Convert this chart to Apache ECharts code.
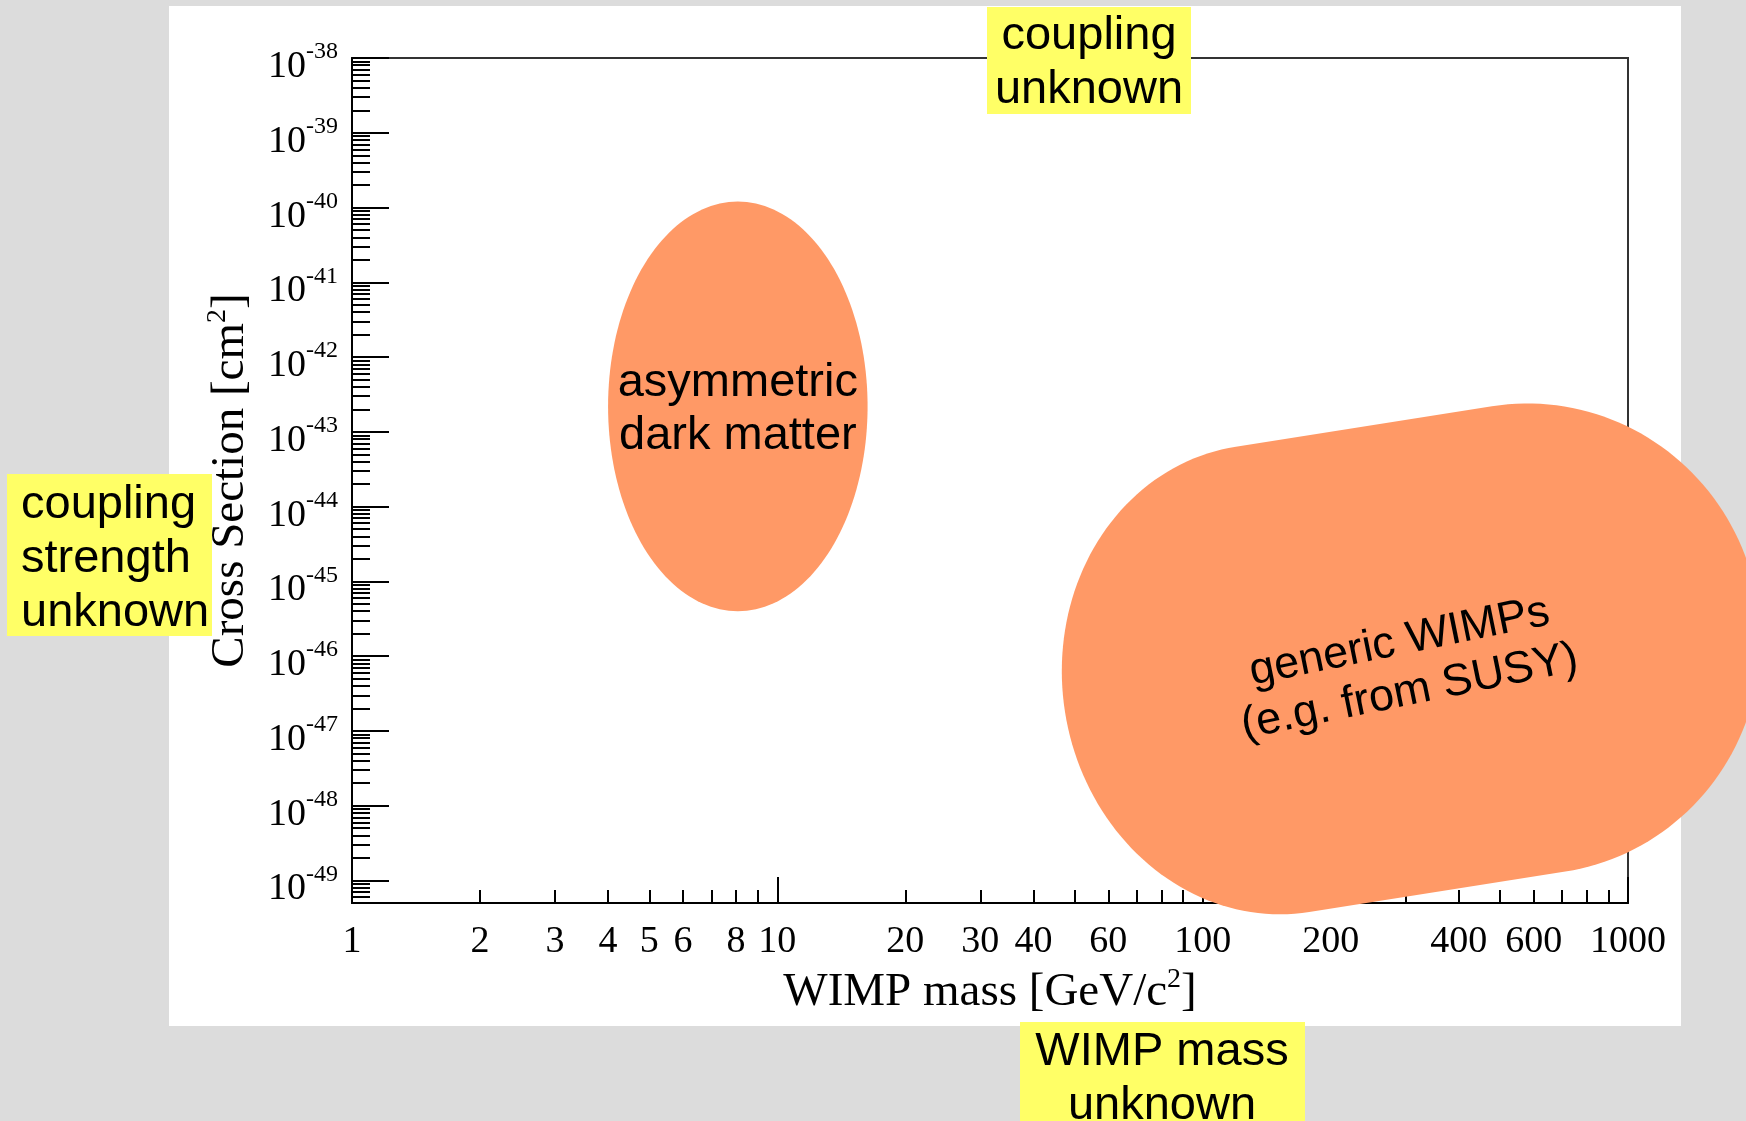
<!DOCTYPE html>
<html>
<head>
<meta charset="utf-8">
<script src="https://cdn.jsdelivr.net/npm/echarts@6/dist/echarts.min.js"></script>
<style>
html,body{margin:0;padding:0;background:#dcdcdc;}
#c{width:1746px;height:1121px;}
</style>
</head>
<body>
<div id="c"></div>
<script>
// ---------------- data ----------------
const massMin = 1;
const massMax = 1000;
const massLabels = [1, 2, 3, 4, 5, 6, 8, 10, 20, 30, 40, 60, 100, 200, 400, 600, 1000];
const massMajorTicks = [1, 10, 100, 1000];
const massDecades = [1, 10, 100];
const minorFactors = [2, 3, 4, 5, 6, 7, 8, 9];

const xsecMin = 5e-50;
const xsecMax = 1e-38;
const xsecExponents = [-49, -48, -47, -46, -45, -44, -43, -42, -41, -40, -39, -38];
const xsecMinorDecades = [-50, -49, -48, -47, -46, -45, -44, -43, -42, -41, -40, -39];

// region: asymmetric dark matter (mass range, cross-section range)
const asymMassRange = [4, 16.3];
const asymXsecRange = [4e-46, 1.2e-40];
const asymLabel = 'asymmetric\ndark matter';

// region: generic WIMPs (centres of the two rounded ends, thickness / end reach in decades)
const wimpEndMass = [146, 584];
const wimpEndXsec = [4.9e-47, 1.7e-46];
const wimpHalfThicknessDecades = 3.15;
const wimpEndReachDecades = [0.494, 0.545];
const wimpLabel = 'generic WIMPs\n(e.g. from SUSY)';

const xTitleRich = '{a|WIMP mass [GeV/c}{s|2}{a|]}';
const yTitleRich = '{a|Cross Section [cm}{s|2}{a|]}';

// ---------------- helpers ----------------
const L = Math.log10;
const xMinorTicks = [];
massDecades.forEach(d => minorFactors.forEach(k => xMinorTicks.push(L(k * d))));
const yMinorTicks = [];
xsecMinorDecades.forEach(n => minorFactors.forEach(k => {
  const v = n + L(k);
  if (v >= L(xsecMin) - 1e-9 && v <= L(xsecMax) + 1e-9) yMinorTicks.push(v);
}));

const SERIF = 'Liberation Serif';
const SANS = 'Liberation Sans';
const FILL = '#ff9966';

const chart = echarts.init(document.getElementById('c'), null, {renderer: 'canvas'});

function baseX(extra) {
  return Object.assign({
    type: 'value', min: L(massMin), max: L(massMax), position: 'bottom', offset: 0,
    splitLine: {show: false}
  }, extra);
}
function baseY(extra) {
  return Object.assign({
    type: 'value', min: L(xsecMin), max: L(xsecMax), position: 'left', offset: 0,
    splitLine: {show: false}
  }, extra);
}

const option = {
  animation: false,
  backgroundColor: 'transparent',
  grid: {
    left: 352, top: 58, width: 1276, height: 845,
    show: true, backgroundColor: '#ffffff', borderColor: '#333', borderWidth: 2
  },
  xAxis: [
    baseX({
      axisLine: {show: true, onZero: false, lineStyle: {color: '#000', width: 2}},
      axisTick: {show: true, inside: true, length: 26, customValues: massMajorTicks.map(L),
                 lineStyle: {color: '#000', width: 2}},
      axisLabel: {show: true, customValues: massLabels.map(L), margin: 20,
                  formatter: v => String(Math.round(Math.pow(10, v))),
                  fontFamily: SERIF, fontSize: 38, color: '#000'},
      name: xTitleRich, nameLocation: 'middle', nameGap: 60,
      nameTextStyle: {rich: {
        a: {fontFamily: SERIF, fontSize: 47, color: '#000', lineHeight: 54},
        s: {fontFamily: SERIF, fontSize: 28, color: '#000', verticalAlign: 'top', lineHeight: 28}
      }}
    }),
    baseX({
      axisLine: {show: false, onZero: false},
      axisTick: {show: true, inside: true, length: 13, customValues: xMinorTicks,
                 lineStyle: {color: '#000', width: 2}},
      axisLabel: {show: false}
    })
  ],
  yAxis: [
    baseY({
      axisLine: {show: true, onZero: false, lineStyle: {color: '#000', width: 2}},
      axisTick: {show: true, inside: true, length: 37, customValues: xsecExponents,
                 lineStyle: {color: '#000', width: 2}},
      axisLabel: {show: true, customValues: xsecExponents, margin: 14, padding: [10, 0, 0, 0],
                  formatter: v => '{b|10}{s|' + Math.round(v) + '}',
                  rich: {
                    b: {fontFamily: SERIF, fontSize: 38, color: '#000', lineHeight: 46, padding: [8, 0, 0, 0]},
                    s: {fontFamily: SERIF, fontSize: 24, color: '#000', verticalAlign: 'top', lineHeight: 24}
                  }},
      name: yTitleRich, nameLocation: 'middle', nameGap: 94, nameRotate: 90,
      nameTextStyle: {rich: {
        a: {fontFamily: SERIF, fontSize: 47, color: '#000', lineHeight: 54},
        s: {fontFamily: SERIF, fontSize: 28, color: '#000', verticalAlign: 'top', lineHeight: 28}
      }}
    }),
    baseY({
      axisLine: {show: false, onZero: false},
      axisTick: {show: true, inside: true, length: 18, customValues: yMinorTicks,
                 lineStyle: {color: '#000', width: 2}},
      axisLabel: {show: false}
    })
  ],
  series: [
    {
      type: 'custom', name: 'asymmetric dark matter', xAxisIndex: 0, yAxisIndex: 0, clip: false, z: 5,
      encode: {x: [0, 2], y: [1, 3]},
      data: [[L(asymMassRange[0]), L(asymXsecRange[0]), L(asymMassRange[1]), L(asymXsecRange[1])]],
      renderItem: function (params, api) {
        const a = api.coord([api.value(0), api.value(1)]);
        const b = api.coord([api.value(2), api.value(3)]);
        const cx = (a[0] + b[0]) / 2, cy = (a[1] + b[1]) / 2;
        const rx = Math.abs(b[0] - a[0]) / 2, ry = Math.abs(b[1] - a[1]) / 2;
        const pts = [];
        for (let i = 0; i < 180; i++) {
          const t = i / 180 * Math.PI * 2;
          pts.push([cx + rx * Math.cos(t), cy + ry * Math.sin(t)]);
        }
        return {type: 'group', children: [
          {type: 'polygon', shape: {points: pts}, style: {fill: FILL}},
          {type: 'text', x: cx, y: cy + 3, style: {text: asymLabel, fill: '#000', fontFamily: SANS,
            fontSize: 47, lineHeight: 53, align: 'center', verticalAlign: 'middle'}}
        ]};
      }
    },
    {
      type: 'custom', name: 'generic WIMPs', xAxisIndex: 0, yAxisIndex: 0, clip: false, z: 5,
      encode: {x: [0, 2], y: [1, 3]},
      data: [[L(wimpEndMass[0]), L(wimpEndXsec[0]), L(wimpEndMass[1]), L(wimpEndXsec[1]),
              wimpHalfThicknessDecades, wimpEndReachDecades[0], wimpEndReachDecades[1]]],
      renderItem: function (params, api) {
        const x0 = api.value(0), y0 = api.value(1);
        const p1 = api.coord([x0, y0]);
        const p2 = api.coord([api.value(2), api.value(3)]);
        const H = Math.abs(api.coord([x0, y0 + api.value(4)])[1] - p1[1]);
        const A1 = Math.abs(api.coord([x0 + api.value(5), y0])[0] - p1[0]);
        const A2 = Math.abs(api.coord([x0 + api.value(6), y0])[0] - p1[0]);
        const dx = p2[0] - p1[0], dy = p2[1] - p1[1];
        const len = Math.hypot(dx, dy);
        const d = [dx / len, dy / len];
        const n = [-d[1], d[0]];
        const pts = [];
        const N = 90;
        for (let i = 0; i <= N; i++) {
          const t = -Math.PI / 2 + Math.PI * i / N;
          const u = A2 * Math.cos(t), w = H * Math.sin(t);
          pts.push([p2[0] + d[0] * u + n[0] * w, p2[1] + d[1] * u + n[1] * w]);
        }
        for (let i = 0; i <= N; i++) {
          const t = Math.PI / 2 + Math.PI * i / N;
          const u = A1 * Math.cos(t), w = H * Math.sin(t);
          pts.push([p1[0] + d[0] * u + n[0] * w, p1[1] + d[1] * u + n[1] * w]);
        }
        const cx = (p1[0] + p2[0]) / 2, cy = (p1[1] + p2[1]) / 2;
        return {type: 'group', children: [
          {type: 'polygon', shape: {points: pts}, style: {fill: FILL}},
          {type: 'text', x: cx + 4, y: cy + 8, rotation: 11.5 * Math.PI / 180,
            style: {text: wimpLabel, fill: '#000', fontFamily: SANS, fontSize: 45, lineHeight: 51,
              align: 'center', verticalAlign: 'middle'}}
        ]};
      }
    }
  ],
  graphic: [
    {type: 'rect', z: -10, silent: true, shape: {x: 169, y: 6, width: 1512, height: 1020}, style: {fill: '#ffffff'}},
    {type: 'rect', z: 100, shape: {x: 987, y: 7, width: 204, height: 107}, style: {fill: '#ffff66'}},
    {type: 'text', z: 101, x: 1089, y: 63, style: {text: 'coupling\nunknown', fill: '#000', fontFamily: SANS,
      fontSize: 47, lineHeight: 54, align: 'center', verticalAlign: 'middle'}},
    {type: 'rect', z: 100, shape: {x: 7, y: 474, width: 205, height: 162}, style: {fill: '#ffff66'}},
    {type: 'text', z: 101, x: 21, y: 559, style: {text: 'coupling\nstrength\nunknown', fill: '#000', fontFamily: SANS,
      fontSize: 47, lineHeight: 54, align: 'left', verticalAlign: 'middle'}},
    {type: 'rect', z: 100, shape: {x: 1020, y: 1022, width: 285, height: 110}, style: {fill: '#ffff66'}},
    {type: 'text', z: 101, x: 1162, y: 1079, style: {text: 'WIMP mass\nunknown', fill: '#000', fontFamily: SANS,
      fontSize: 47, lineHeight: 54, align: 'center', verticalAlign: 'middle'}}
  ]
};
chart.setOption(option);
</script>
</body>
</html>
